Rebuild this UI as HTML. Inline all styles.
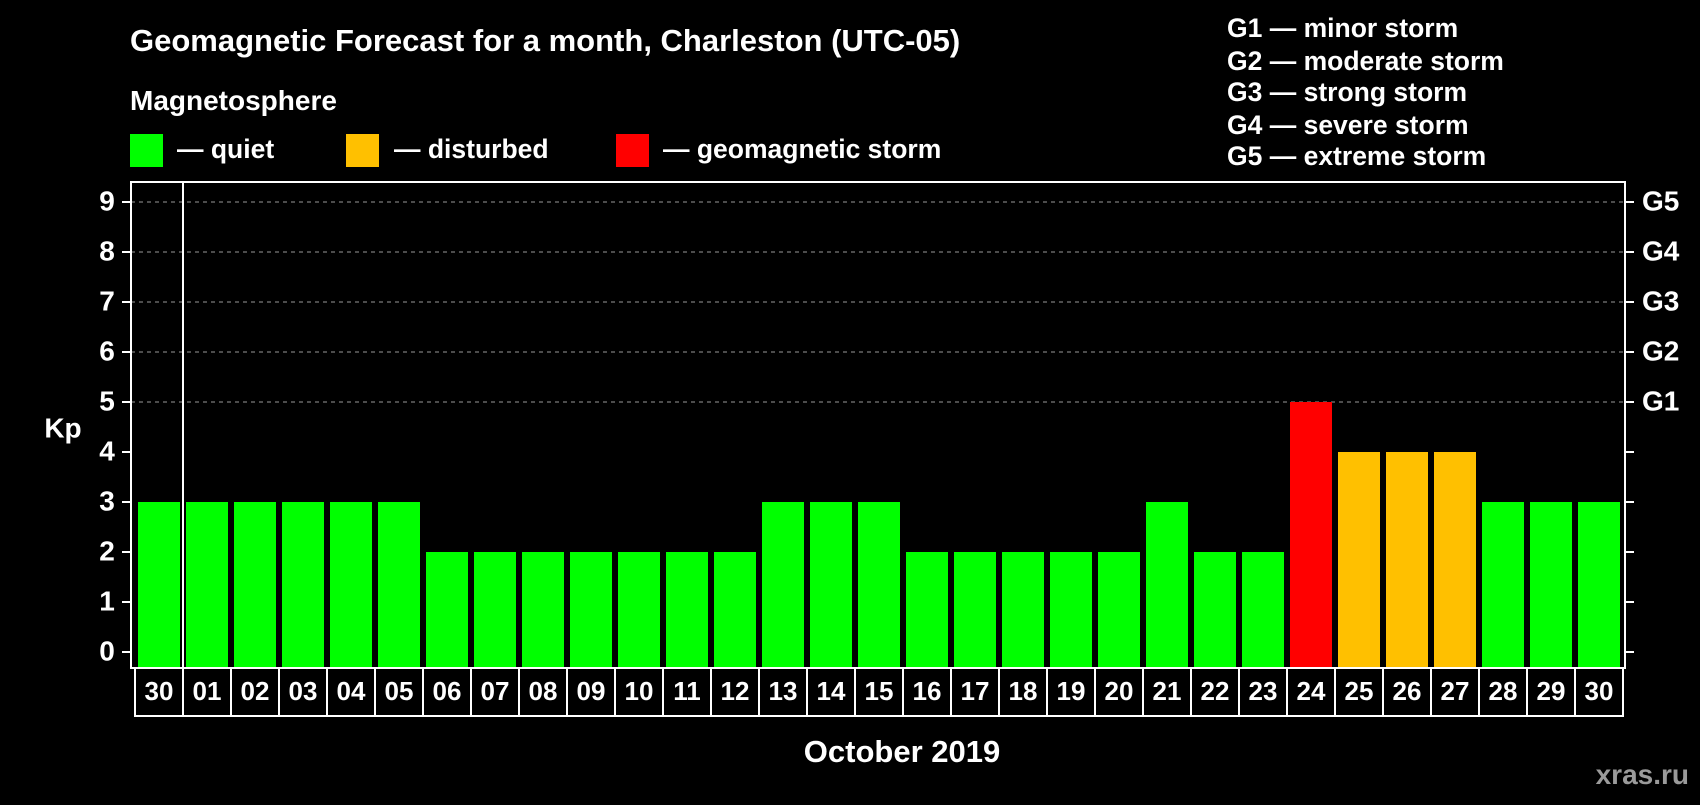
<!DOCTYPE html>
<html><head><meta charset="utf-8">
<style>
body{margin:0;background:#000;width:1700px;height:800px;overflow:hidden;font-family:"Liberation Sans",sans-serif;}
svg text{font-family:"Liberation Sans",sans-serif;font-weight:bold;fill:#fff;}
</style></head><body>
<svg width="1700" height="800">
<text x="130" y="51" font-size="31">Geomagnetic Forecast for a month, Charleston (UTC-05)</text>
<text x="130" y="110" font-size="28">Magnetosphere</text>
<g><rect x="130" y="134" width="33" height="33" fill="#00ff00"/><text x="177" y="158" font-size="26.5">— quiet</text></g>
<g><rect x="346" y="134" width="33" height="33" fill="#ffc000"/><text x="394" y="158" font-size="26.5">— disturbed</text></g>
<g><rect x="616" y="134" width="33" height="33" fill="#ff0000"/><text x="663" y="158" font-size="26.5">— geomagnetic storm</text></g>
<g font-size="26.5">
<text x="1227" y="37">G1 — minor storm</text>
<text x="1227" y="70">G2 — moderate storm</text>
<text x="1227" y="101">G3 — strong storm</text>
<text x="1227" y="134">G4 — severe storm</text>
<text x="1227" y="165">G5 — extreme storm</text>
</g>
<text x="63" y="430" font-size="28" text-anchor="middle" dominant-baseline="middle">Kp</text>
<text x="902" y="762" font-size="31" text-anchor="middle">October 2019</text>
<text x="1689" y="784" font-size="28" text-anchor="end" style="fill:#9a9a9a">xras.ru</text>
<g id="plot"></g>
</svg>
<script>
const days=["30","01","02","03","04","05","06","07","08","09","10","11","12","13","14","15","16","17","18","19","20","21","22","23","24","25","26","27","28","29","30"];
const kp=[3,3,3,3,3,3,2,2,2,2,2,2,2,3,3,3,2,2,2,2,2,3,2,2,5,4,4,4,3,3,3];
const yTicks=[0,1,2,3,4,5,6,7,8,9];
const gLabels=["G1","G2","G3","G4","G5"];
const gLevels=[5,6,7,8,9];
const NS="http://www.w3.org/2000/svg";
const g=document.getElementById('plot');
const L=131,R=1625,T=182,B=668,x0=138,pitch=48,bw=42,LB=716;
const y=v=>652-v*50;
const xs=i=>x0+i*pitch;
function mk(t,a){const e=document.createElementNS(NS,t);for(const k in a)e.setAttribute(k,a[k]);g.appendChild(e);return e;}
gLevels.forEach((v,i)=>{
 const ln=mk('line',{x1:L,x2:R,y1:y(v),y2:y(v),stroke:'#999','stroke-dasharray':'4,4','stroke-width':1});
 
 
 const t=mk('text',{x:1642,y:y(v)+1,'font-size':28,'dominant-baseline':'middle'});t.textContent=gLabels[i];
 
 
});
kp.forEach((v,i)=>{
 const c=v>=5?'#ff0000':(v>=4?'#ffc000':'#00ff00');
 const r=mk('rect',{x:xs(i),y:y(v),width:bw,height:B-y(v),fill:c});
 
 
});
const fr=mk('rect',{x:L,y:T,width:R-L,height:B-T,fill:'none',stroke:'#fff','stroke-width':2});


const sep=mk('line',{x1:xs(1)-3,x2:xs(1)-3,y1:T,y2:B,stroke:'#fff','stroke-width':2});


yTicks.forEach(v=>{
 mk('line',{x1:122,x2:L,y1:y(v),y2:y(v),stroke:'#fff','stroke-width':2});
 mk('line',{x1:R,x2:1634,y1:y(v),y2:y(v),stroke:'#fff','stroke-width':2});
 const t=mk('text',{x:107,y:y(v)+1,'font-size':28,'text-anchor':'middle','dominant-baseline':'middle'});t.textContent=v;
 
 
});
const lb=mk('rect',{x:135,y:B,width:1488,height:LB-B,fill:'none',stroke:'#fff','stroke-width':2});


days.forEach((d,i)=>{
 if(i>0)mk('line',{x1:xs(i)-3,x2:xs(i)-3,y1:B,y2:LB,stroke:'#fff','stroke-width':2});
 const t=mk('text',{x:xs(i)+bw/2,y:(B+LB)/2+1,'font-size':26,'text-anchor':'middle','dominant-baseline':'middle'});t.textContent=d;
 
 
});
</script>
</body></html>
